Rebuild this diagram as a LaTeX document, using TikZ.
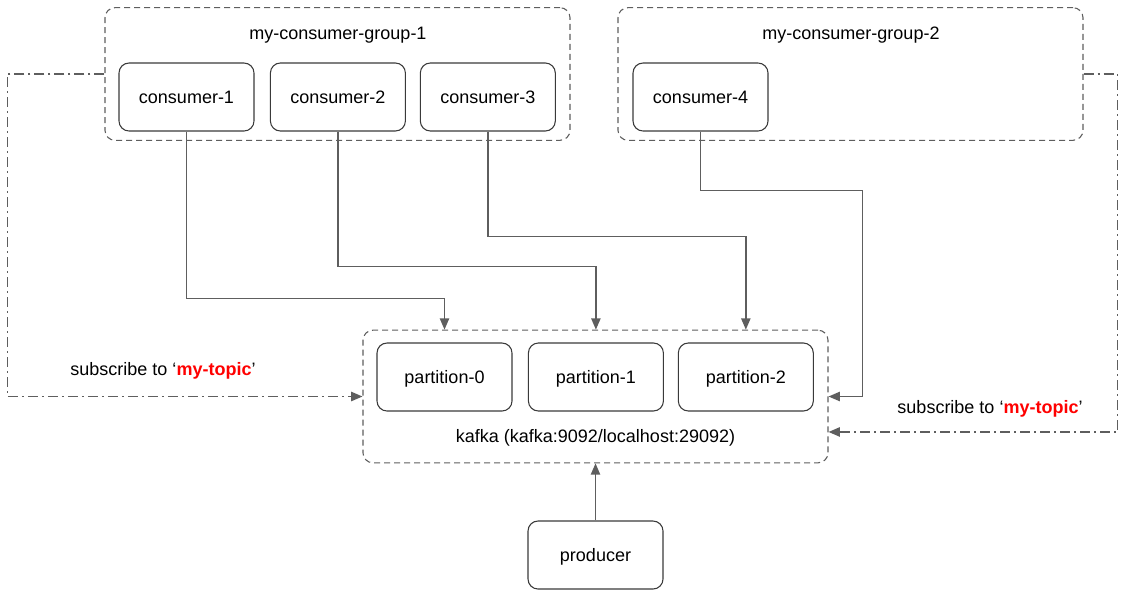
\documentclass[tikz,border=0pt]{standalone}
\usepackage{fontspec}
\setmainfont{Liberation Sans}
\usetikzlibrary{arrows.meta,positioning}
\definecolor{linegray}{HTML}{5E5E5E}
\definecolor{boxgray}{HTML}{3A3A3A}
\definecolor{topicred}{HTML}{FF0000}

\begin{document}
\begin{tikzpicture}[x=0.75pt,y=-0.75pt,
                font=\fontsize{13.5}{16}\selectfont,
                member/.style={draw=boxgray,line width=0.8pt,rounded corners=7.5pt,
                        minimum width=101.25pt,minimum height=51pt,text depth=0pt,text height=9.8pt},
                group/.style={draw=linegray,line width=0.8pt,dash pattern=on 4.5pt off 3pt,
                        rounded corners=7.5pt,minimum width=348.75pt,minimum height=99.5pt},
                feed/.style={draw=linegray,line width=1.1pt,-{Triangle[length=8.5pt,width=7pt]}},
                subscribe/.style={feed,dash pattern=on 7.5pt off 3pt on 1.5pt off 3pt},
                node distance=11.5pt]
            \useasboundingbox (0,0) rectangle (1124,597);
            % groups
            \node[group] (group1) at (337.5,74) {};
            \node[group] (group2) at (850.5,74) {};
            \node[group] (kafka) at (595.5,396.5) {};
            \node (group1 label) at (338,35) {my-consumer-group-1};
            \node (group2 label) at (851,35) {my-consumer-group-2};
            \node (kafka label) at (595.5,438) {kafka (kafka:9092/localhost:29092)};
            % consumers
            \node[member] (consumer-1) at (186.5,97) {consumer-1};
            \node[member,right=of consumer-1] (consumer-2) {consumer-2};
            \node[member,right=10.4pt of consumer-2] (consumer-3) {consumer-3};
            \node[member] (consumer-4) at (700.5,97) {consumer-4};
            % partitions
            \node[member] (partition-0) at (444.5,377) {partition-0};
            \node[member,right=of partition-0] (partition-1) {partition-1};
            \node[member,right=10.4pt of partition-1] (partition-2) {partition-2};
            \node[member] (producer) at (595.5,555) {producer};
            % connectors
            \draw[feed] (consumer-1.south) -- ++(0,167) -| (partition-0 |- kafka.north);
            \draw[feed] (consumer-2.south) -- ++(0,135) -| (partition-1 |- kafka.north);
            \draw[feed] (consumer-3.south) -- ++(0,105) -| (partition-2 |- kafka.north);
            \draw[feed] (consumer-4.south) -- ++(0,59) -| ([xshift=25.5pt]kafka.east) -- (kafka.east);
            \draw[feed] (producer.north) -- (kafka.south);
            \draw[subscribe] (group1.west) -- ++(-97,0) |- (kafka.west);
            \draw[subscribe] (group2.east) -- ++(34,0) |- ([yshift=-26.6pt]kafka.east);
            \node (left topic) at (163,371) {subscribe to ‘\textcolor{topicred}{\bfseries my-topic}’};
            \node (right topic) at (990,409) {subscribe to ‘\textcolor{topicred}{\bfseries my-topic}’};
        \end{tikzpicture}
\end{document}
